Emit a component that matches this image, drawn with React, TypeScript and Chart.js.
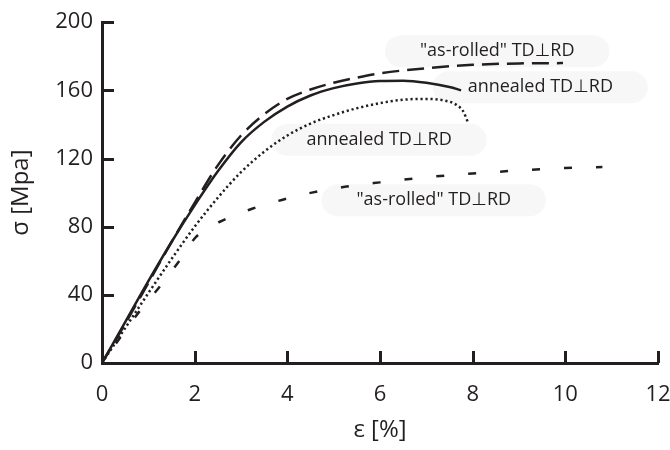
import React, { useEffect, useRef } from "react";
import { Chart, registerables } from "chart.js";

Chart.register(...registerables);

// Strain (%) / stress (MPa) readings per curve
const rolledLongStrain = [0, 0.5, 1, 1.5, 2, 2.5, 3, 3.5, 4, 4.5, 5, 5.5, 6, 7, 8, 9, 9.95];
const rolledLongStress = [0, 23, 47, 71, 94, 116, 133.5, 146, 155, 160.5, 164.5, 167.5, 170, 173, 175, 175.8, 176];

const annealedSolidStrain = [0, 0.5, 1, 1.5, 2, 2.5, 3, 3.5, 4, 4.5, 5, 5.5, 6, 6.5, 7, 7.5, 7.75];
const annealedSolidStress = [0, 24, 48, 71, 92.5, 112.5, 129.5, 141.5, 150.5, 157, 161.3, 164, 165.5, 165.7, 164.5, 162, 160];

const annealedDotStrain = [0, 0.5, 1, 1.5, 2, 2.5, 3, 3.5, 4, 4.5, 5, 5.5, 6, 6.5, 7, 7.4, 7.65, 7.8, 7.9];
const annealedDotStress = [0, 20.5, 41, 61, 80, 97, 112, 124, 133.5, 140.5, 145.5, 149.5, 152.5, 154.5, 155, 154, 151.5, 147.5, 141];

const rolledShortStrain = [0, 0.8, 1.25, 1.67, 2.03, 2.67, 3.24, 3.88, 4.53, 5.24, 6, 7, 8, 9, 10, 10.8];
const rolledShortStress = [0, 30, 45, 60, 74, 84.5, 90.5, 95.7, 100, 103.4, 106, 109, 111.2, 113, 114.5, 115];

const xTickMin = 0;
const xTickMax = 12;
const xTickStep = 2;
const yTickMin = 0;
const yTickMax = 200;
const yTickStep = 40;

const labelTexts = ['"as-rolled" TD\u22A5RD', "annealed TD\u22A5RD", "annealed TD\u22A5RD", '"as-rolled" TD\u22A5RD'];
const labelStrain = [8.53, 9.46, 5.98, 7.16];
const labelStress = [183, 161.8, 131, 95.5];

const INK = "#231f20";
const FONT = "'Open Sans', 'DejaVu Sans', sans-serif";

const pts = (xs: number[], ys: number[]) => xs.map((x, i) => ({ x, y: ys[i] }));

const decorPlugin = {
  id: "decor",
  beforeDatasetsDraw(chart: any) {
    const { ctx, scales } = chart;
    ctx.save();
    ctx.font = `18px ${FONT}`;
    ctx.fillStyle = "rgba(0,0,0,0.03)";
    labelTexts.forEach((t, i) => {
      const cx = scales.x.getPixelForValue(labelStrain[i]);
      const cy = scales.y.getPixelForValue(labelStress[i]);
      const w = ctx.measureText(t).width + 70;
      const h = 32;
      ctx.beginPath();
      (ctx as any).roundRect(cx - w / 2, cy - h / 2, w, h, h / 2);
      ctx.fill();
    });
    ctx.restore();
  },
  afterDatasetsDraw(chart: any) {
    const { ctx, scales, chartArea } = chart;
    ctx.save();
    ctx.strokeStyle = INK;
    ctx.lineWidth = 3;
    ctx.lineCap = "butt";
    scales.x.ticks.forEach((t: any) => {
      if (t.value === 0) return;
      const px = Math.round(scales.x.getPixelForValue(t.value)) + 0.5;
      ctx.beginPath();
      ctx.moveTo(px, chartArea.bottom);
      ctx.lineTo(px, chartArea.bottom - 12);
      ctx.stroke();
    });
    scales.y.ticks.forEach((t: any) => {
      if (t.value === 0) return;
      const py = Math.round(scales.y.getPixelForValue(t.value)) + 0.5;
      ctx.beginPath();
      ctx.moveTo(chartArea.left, py);
      ctx.lineTo(chartArea.left + 12, py);
      ctx.stroke();
    });
    ctx.fillStyle = INK;
    ctx.font = `18px ${FONT}`;
    ctx.textAlign = "center";
    ctx.textBaseline = "middle";
    labelTexts.forEach((t, i) => {
      ctx.fillText(t, scales.x.getPixelForValue(labelStrain[i]), scales.y.getPixelForValue(labelStress[i]));
    });
    ctx.restore();
  },
};

export default function App() {
  const ref = useRef<HTMLCanvasElement | null>(null);
  useEffect(() => {
    if (!ref.current) return;
    const common = {
      borderColor: INK,
      backgroundColor: INK,
      borderWidth: 2.5,
      pointRadius: 0,
      fill: false,
      cubicInterpolationMode: "monotone" as const,
    };
    const chart = new Chart(ref.current, {
      type: "line",
      data: {
        datasets: [
          { ...common, label: "as-rolled long", data: pts(rolledLongStrain, rolledLongStress), borderDash: [17, 8] },
          { ...common, label: "annealed solid", data: pts(annealedSolidStrain, annealedSolidStress) },
          { ...common, label: "annealed dotted", data: pts(annealedDotStrain, annealedDotStress), borderDash: [2.2, 2.8] },
          { ...common, label: "as-rolled short", data: pts(rolledShortStrain, rolledShortStress), borderDash: [8, 24], borderDashOffset: 8 },
        ],
      },
      options: {
        animation: false,
        responsive: true,
        maintainAspectRatio: false,
        layout: { padding: { left: 0, top: 15, right: 12, bottom: 0 } },
        plugins: { legend: { display: false }, tooltip: { enabled: false } },
        scales: {
          x: {
            type: "linear",
            min: xTickMin,
            max: xTickMax,
            grid: { display: false, drawTicks: false },
            border: { display: true, color: INK, width: 3 },
            ticks: { stepSize: xTickStep, color: INK, font: { family: FONT, size: 22 }, padding: 19, maxRotation: 0 },
            title: { display: true, text: "\u03B5 [%]", color: INK, font: { family: FONT, size: 24 }, padding: { top: 0, bottom: 5 } },
            afterFit: (s: any) => {
              s.height = 87;
              s.paddingRight = 0;
            },
          },
          y: {
            type: "linear",
            min: yTickMin,
            max: yTickMax,
            grid: { display: false, drawTicks: false },
            border: { display: true, color: INK, width: 3 },
            ticks: { stepSize: yTickStep, color: INK, font: { family: FONT, size: 22 }, padding: 9 },
            title: { display: true, text: "\u03C3 [Mpa]", color: INK, font: { family: FONT, size: 24 }, padding: { top: 7, bottom: 0 } },
            afterFit: (s: any) => {
              s.width = 102;
            },
          },
        },
      },
      plugins: [decorPlugin],
    });
    return () => chart.destroy();
  }, []);
  return (
    <div style={{ position: "absolute", left: 0, top: 0, width: 670, height: 450, background: "#fff" }}>
      <canvas ref={ref} />
    </div>
  );
}
